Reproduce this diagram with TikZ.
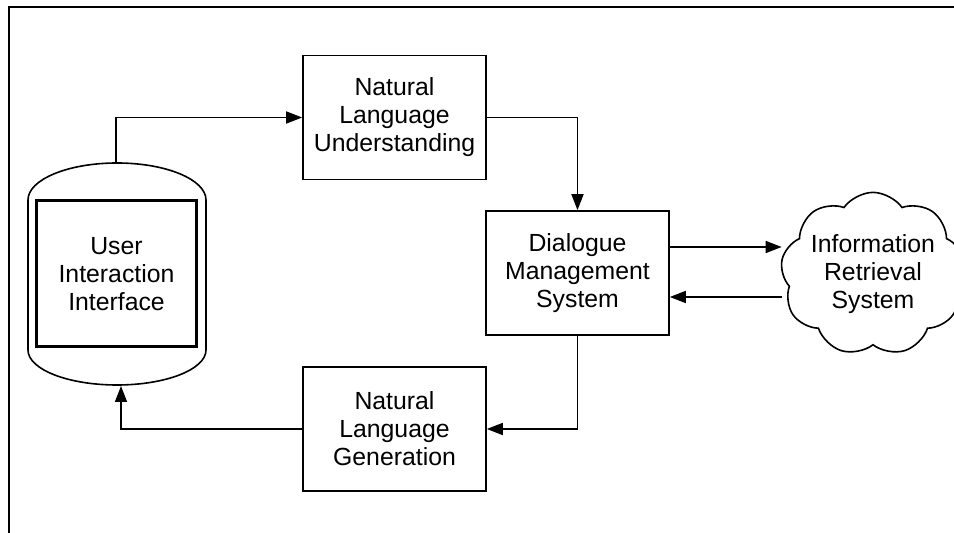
\documentclass[tikz,border=0pt]{standalone}
\usepackage{fontspec}
\setmainfont{Liberation Sans}
\usepackage{tikz}
\usetikzlibrary{arrows.meta,shapes.symbols}

\begin{document}
\begin{tikzpicture}
	[x=0.5pt,y=-0.5pt,->,>={Triangle[length=8pt,width=6pt]},line width=0.8pt,
		font=\fontsize{12.4}{14}\selectfont,
		box node/.style={rectangle,draw,align=center,minimum width=91.5pt,minimum height=62pt,inner sep=0pt},
		inner node/.style={rectangle,draw,line width=1.5pt,align=center,minimum width=80pt,minimum height=73pt,inner sep=0pt},
		cloud node/.style={cloud,draw,cloud puffs=9,cloud puff arc=110,aspect=1.2,align=center,inner xsep=-1pt,inner ysep=-6.5pt}]

	\useasboundingbox (0,0) rectangle (954,533);
	% page frame, only top and left show
	\draw[-,line width=1pt] (8.5,533) -- (8.5,7.5) -- (954,7.5);

	\node[inner node] (UII) at (116.5,274) {User\\Interaction\\Interface};
	\node[box node] (NLU) at (394.5,117.5) {Natural\\Language\\Understanding};
	\node[box node] (DMS) at (577.5,273) {Dialogue\\Management\\System};
	\node[box node] (NLG) at (394.5,429) {Natural\\Language\\Generation};
	\node[cloud node] (IRS) at (873,274) {Information\\Retrieval\\System};

	% tank round the user interface
	\draw[-] (28,200) -- (28,350) arc[start angle=180,end angle=0,x radius=89,y radius=35]
		-- (206,200) arc[start angle=0,end angle=-180,x radius=89,y radius=37] -- cycle;
	\coordinate (tanktop) at (116,163);
	\coordinate (tankbot) at (121,386);
	\coordinate (ask) at ([yshift=13pt]DMS.east);
	\coordinate (reply) at ([yshift=-12pt]DMS.east);

	\path[]
	(tanktop) edge [to path={|- (\tikztotarget)}] (NLU.west)
	(NLU.east) edge [to path={-| (\tikztotarget)}] (DMS.north)
	(DMS.south) edge [to path={|- (\tikztotarget)}] (NLG.east)
	(NLG.west) edge [to path={-| (\tikztotarget)}] (tankbot)
	(ask) edge (ask -| IRS.west)
	(reply -| IRS.west) edge (reply)
	;

\end{tikzpicture}
\end{document}
